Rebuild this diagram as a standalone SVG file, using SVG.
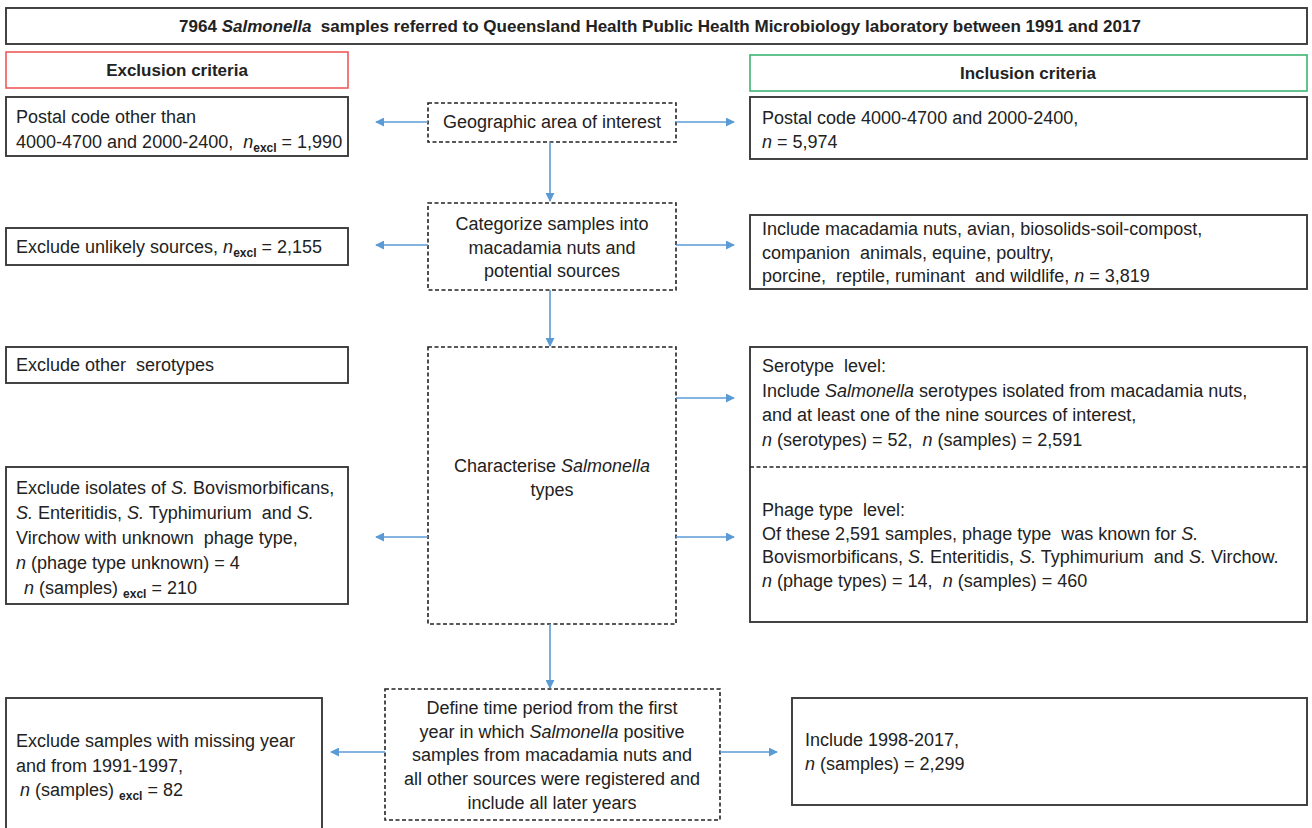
<svg xmlns="http://www.w3.org/2000/svg" width="1312" height="828" viewBox="0 0 1312 828">
<defs>
<marker id="ah" viewBox="0 0 10 10" refX="9" refY="5" markerWidth="9" markerHeight="9" markerUnits="userSpaceOnUse" orient="auto">
<path d="M0,0 L10,5 L0,10 z" fill="#5b9bd5"/>
</marker>
<style>
.box{fill:#fff;stroke:#3a3a3a;stroke-width:1.9}
.dash{fill:#fff;stroke:#222;stroke-width:1.6;stroke-dasharray:4 2.5}
.t{font-family:"Liberation Sans",Arial,sans-serif;font-size:18px;fill:#222;white-space:pre}
.b{font-weight:bold;font-size:17px}
.c{text-anchor:middle}
.i{font-style:italic}
.sub{font-size:12px;font-weight:bold}
.con{stroke:#5b9bd5;stroke-width:1.6;fill:none;marker-end:url(#ah)}
</style>
</defs>
<rect width="1312" height="828" fill="#fff"/>

<g id="title">
<rect class="box" x="6" y="8" width="1301" height="36"/>
<text class="t b c" x="660" y="32">7964 <tspan class="i">Salmonella</tspan>  samples referred to Queensland Health Public Health Microbiology laboratory between 1991 and 2017</text>
</g>

<g id="exclusion-header">
<rect x="6" y="52" width="342" height="36" fill="#fff" stroke="#ee5a5a" stroke-width="1.6"/>
<text class="t b c" x="177" y="76">Exclusion criteria</text>
</g>
<g id="inclusion-header">
<rect x="750" y="55" width="557" height="36" fill="#fff" stroke="#3cb371" stroke-width="1.6"/>
<text class="t b c" x="1028" y="79">Inclusion criteria</text>
</g>

<g id="excl-postal">
<rect class="box" x="6" y="97" width="342" height="59"/>
<text class="t" x="16" y="123">Postal code other than</text>
<text class="t" x="16" y="148">4000-4700 and 2000-2400,  <tspan class="i">n</tspan><tspan class="sub" dy="4">excl</tspan><tspan dy="-4"> = 1,990</tspan></text>
</g>
<g id="excl-sources">
<rect class="box" x="6" y="228" width="342" height="37"/>
<text class="t" x="16" y="253">Exclude unlikely sources, <tspan class="i">n</tspan><tspan class="sub" dy="4">excl</tspan><tspan dy="-4"> = 2,155</tspan></text>
</g>
<g id="excl-serotypes">
<rect class="box" x="6" y="347" width="342" height="36"/>
<text class="t" x="16" y="371">Exclude other  serotypes</text>
</g>
<g id="excl-phage">
<rect class="box" x="6" y="467" width="342" height="137"/>
<text class="t" x="16" y="494">Exclude isolates of <tspan class="i">S.</tspan> Bovismorbificans,</text>
<text class="t" x="16" y="519"><tspan class="i">S.</tspan> Enteritidis, <tspan class="i">S.</tspan> Typhimurium  and <tspan class="i">S.</tspan></text>
<text class="t" x="16" y="544">Virchow with unknown  phage type,</text>
<text class="t" x="16" y="569"><tspan class="i">n</tspan> (phage type unknown) = 4</text>
<text class="t" x="24" y="594"><tspan class="i">n</tspan> (samples) <tspan class="sub" dy="4">excl</tspan><tspan dy="-4"> = 210</tspan></text>
</g>
<g id="excl-years">
<rect class="box" x="6" y="698" width="316" height="140"/>
<text class="t" x="16" y="747">Exclude samples with missing year</text>
<text class="t" x="16" y="772">and from 1991-1997,</text>
<text class="t" x="20" y="796"><tspan class="i">n</tspan> (samples) <tspan class="sub" dy="4">excl</tspan><tspan dy="-4"> = 82</tspan></text>
</g>

<g id="geo">
<rect class="dash" x="428" y="103" width="248" height="39"/>
<text class="t c" x="552" y="128">Geographic area of interest</text>
</g>
<g id="categorize">
<rect class="dash" x="428" y="203" width="248" height="87"/>
<text class="t c" x="552" y="230">Categorize samples into</text>
<text class="t c" x="552" y="254">macadamia nuts and</text>
<text class="t c" x="552" y="277">potential sources</text>
</g>
<g id="characterise">
<rect class="dash" x="428" y="347" width="248" height="277"/>
<text class="t c" x="552" y="472">Characterise <tspan class="i">Salmonella</tspan></text>
<text class="t c" x="552" y="496">types</text>
</g>
<g id="define">
<rect class="dash" x="385" y="689" width="335" height="131"/>
<text class="t c" x="552" y="714">Define time period from the first</text>
<text class="t c" x="552" y="738">year in which <tspan class="i">Salmonella</tspan> positive</text>
<text class="t c" x="552" y="761">samples from macadamia nuts and</text>
<text class="t c" x="552" y="785">all other sources were registered and</text>
<text class="t c" x="552" y="809">include all later years</text>
</g>

<g id="incl-postal">
<rect class="box" x="750" y="97" width="557" height="62"/>
<text class="t" x="762" y="124">Postal code 4000-4700 and 2000-2400,</text>
<text class="t" x="762" y="148"><tspan class="i">n</tspan> = 5,974</text>
</g>
<g id="incl-sources">
<rect class="box" x="750" y="215" width="557" height="74"/>
<text class="t" x="762" y="235">Include macadamia nuts, avian, biosolids-soil-compost,</text>
<text class="t" x="762" y="259">companion  animals, equine, poultry,</text>
<text class="t" x="762" y="282">porcine,  reptile, ruminant  and wildlife, <tspan class="i">n</tspan> = 3,819</text>
</g>
<g id="incl-types">
<rect class="box" x="750" y="347" width="557" height="275"/>
<line x1="750" y1="467" x2="1307" y2="467" stroke="#222" stroke-width="1.6" stroke-dasharray="4 2.5"/>
<text class="t" x="762" y="372">Serotype  level:</text>
<text class="t" x="762" y="397">Include <tspan class="i">Salmonella</tspan> serotypes isolated from macadamia nuts,</text>
<text class="t" x="762" y="421">and at least one of the nine sources of interest,</text>
<text class="t" x="762" y="446"><tspan class="i">n</tspan> (serotypes) = 52,  <tspan class="i">n</tspan> (samples) = 2,591</text>
<text class="t" x="762" y="516">Phage type  level:</text>
<text class="t" x="762" y="540">Of these 2,591 samples, phage type  was known for <tspan class="i">S.</tspan></text>
<text class="t" x="762" y="563">Bovismorbificans, <tspan class="i">S.</tspan> Enteritidis, <tspan class="i">S.</tspan> Typhimurium  and <tspan class="i">S.</tspan> Virchow.</text>
<text class="t" x="762" y="587"><tspan class="i">n</tspan> (phage types) = 14,  <tspan class="i">n</tspan> (samples) = 460</text>
</g>
<g id="incl-years">
<rect class="box" x="792" y="698" width="515" height="107"/>
<text class="t" x="805" y="746">Include 1998-2017,</text>
<text class="t" x="805" y="770"><tspan class="i">n</tspan> (samples) = 2,299</text>
</g>

<g id="connectors">
<line class="con" x1="428" y1="122" x2="376" y2="122"/>
<line class="con" x1="676" y1="122" x2="734" y2="122"/>
<line class="con" x1="550" y1="142" x2="550" y2="201"/>
<line class="con" x1="428" y1="245" x2="376" y2="245"/>
<line class="con" x1="676" y1="245" x2="734" y2="245"/>
<line class="con" x1="550" y1="290" x2="550" y2="346"/>
<line class="con" x1="676" y1="398" x2="734" y2="398"/>
<line class="con" x1="676" y1="537" x2="734" y2="537"/>
<line class="con" x1="428" y1="537" x2="376" y2="537"/>
<line class="con" x1="550" y1="624" x2="550" y2="688"/>
<line class="con" x1="385" y1="752" x2="331" y2="752"/>
<line class="con" x1="720" y1="752" x2="777" y2="752"/>
</g>
</svg>
